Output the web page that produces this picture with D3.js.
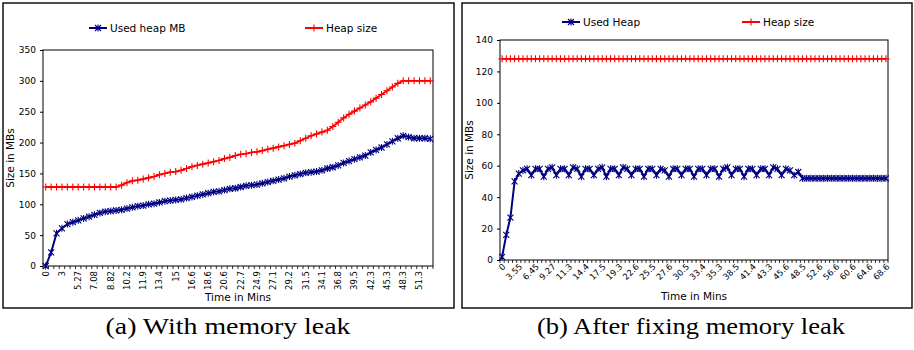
<!DOCTYPE html>
<html>
<head>
<meta charset="utf-8">
<script src="https://cdn.jsdelivr.net/npm/d3@7"></script>
<style>
  body { margin: 0; background: #fff; }
  svg text { font-family: "DejaVu Sans", Verdana, sans-serif; fill: #000; }
  .caption { font-family: "Liberation Serif", "Times New Roman", serif; }
</style>
</head>
<body>
<div id="chart"></div>
<script>
// (a) with memory leak
const leftTimeLabels = ["0", "3", "5.27", "7.08", "8.82", "10.2", "11.9", "13.4", "15", "16.6", "18.6", "20.6",
  "22.7", "24.9", "27.1", "29.2", "31.5", "34.1", "36.8", "39.5", "42.3", "45.3", "48.3", "51.3"];
const leftUsedHeap = [0, 22, 53, 61, 68, 71, 74, 77, 80, 83, 86, 88, 89, 90, 91, 93, 95, 97, 98, 100,
  101, 103, 105, 106, 107, 108, 110, 112, 114, 116, 118, 120, 121, 123, 125, 126, 128, 130, 131, 132,
  134, 136, 138, 140, 142, 145, 147, 149, 151, 152, 153, 155, 158, 160, 163, 167, 170, 173, 176, 179,
  184, 188, 192, 197, 202, 207, 211, 209, 207, 207, 207, 206];
const leftHeapSize = [128, 128, 128, 128, 128, 128, 128, 128, 128, 128, 128, 128, 128, 128, 131, 135, 138, 139, 141, 143,
  145, 148, 150, 152, 153, 155, 158, 161, 163, 165, 167, 169, 171, 174, 176, 179, 181, 182, 184, 185,
  187, 189, 191, 193, 195, 197, 199, 203, 207, 211, 214, 217, 220, 226, 233, 240, 246, 251, 256, 261,
  266, 272, 278, 284, 290, 296, 300, 300, 300, 300, 300, 300];

// (b) after fixing memory leak
const rightTimeLabels = ["0", "3.55", "6.45", "9.27", "11.3", "14.4", "17.5", "19.3", "22.6", "25.5", "27.6", "30.5",
  "33.4", "35.3", "38.5", "41.4", "43.3", "45.6", "48.5", "52.6", "56.6", "60.6", "64.6", "68.6"];
const rightUsedHeap = [2, 16, 27, 50, 55, 57,
  58, 54, 58, 58, 53, 58, 59, 54, 58, 58, 54, 59, 58, 53, 58, 58, 54, 58, 59, 53, 58, 58, 54, 59, 58, 54,
  58, 58, 53, 58, 58, 54, 58, 57, 53, 58, 58, 54, 58, 58, 53, 58, 58, 54, 58, 58, 53, 58, 59, 54, 58, 58,
  53, 58, 58, 54, 58, 58, 54, 59, 58, 54, 58, 57, 54, 56,
  52, 52, 52, 52, 52, 52, 52, 52, 52, 52, 52, 52, 52, 52, 52, 52, 52, 52, 52, 52, 52];
const rightHeapSize = [128, 128, 128, 128, 128, 128, 128, 128, 128, 128, 128, 128, 128, 128, 128, 128,
  128, 128, 128, 128, 128, 128, 128, 128, 128, 128, 128, 128, 128, 128, 128, 128, 128, 128, 128, 128,
  128, 128, 128, 128, 128, 128, 128, 128, 128, 128, 128, 128, 128, 128, 128, 128, 128, 128, 128, 128,
  128, 128, 128, 128, 128, 128, 128, 128, 128, 128, 128, 128, 128, 128, 128, 128, 128, 128, 128, 128,
  128, 128, 128, 128, 128, 128, 128, 128, 128, 128, 128, 128, 128, 128, 128, 128, 128];

const usedColor = "#000080";
const heapColor = "#ff0000";

// excel style markers
const starMarker = "M-3,-3L3,3M-3,3L3,-3M0,-3.5V3.5";
const plusMarker = "M-3.5,0H3.5M0,-3.5V3.5";

const svg = d3.select("#chart").append("svg")
  .attr("width", 914)
  .attr("height", 350);

function drawPanel(cfg) {
  const p = cfg.plot;
  const g = svg.append("g");

  // outer frame
  g.append("rect")
    .attr("x", cfg.frame[0]).attr("y", cfg.frame[1])
    .attr("width", cfg.frame[2]).attr("height", cfg.frame[3])
    .attr("fill", "none").attr("stroke", "#000").attr("stroke-width", 1.4);

  const idx = cfg.used.map((d, i) => i);
  const x = d3.scaleBand().domain(idx).range([p.left, p.right]);
  const y = d3.scaleLinear().domain([0, cfg.yMax]).range([p.bottom, p.top]);
  const cx = i => x(i) + x.bandwidth() / 2;

  // plot box
  g.append("rect")
    .attr("x", p.left).attr("y", p.top)
    .attr("width", p.right - p.left).attr("height", p.bottom - p.top)
    .attr("fill", "#fff").attr("stroke", "#000").attr("stroke-width", 1);

  // y axis
  const yAxis = g.append("g")
    .attr("transform", "translate(" + p.left + ",0)")
    .call(d3.axisLeft(y).tickValues(d3.range(0, cfg.yMax + 1, cfg.yStep)).tickSize(3).tickPadding(4));
  yAxis.select(".domain").remove();
  yAxis.selectAll("text").style("font-size", "9px").style("font-family", "DejaVu Sans");

  // x ticks between categories
  const edges = idx.map(i => x(i)).concat([x.range()[1]]);
  g.selectAll("line.xtick")
    .data(edges)
    .join("line")
    .attr("class", "xtick")
    .attr("x1", d => d).attr("x2", d => d)
    .attr("y1", p.bottom).attr("y2", p.bottom + 3)
    .attr("stroke", "#000").attr("stroke-width", 0.8);

  // x labels
  const labelIdx = cfg.labels.map((l, k) => k * cfg.labelEvery);
  g.selectAll("text.xlab")
    .data(labelIdx)
    .join("text")
    .attr("class", "xlab")
    .attr("transform", i => "translate(" + (cx(i) + cfg.labelShift) + "," + (p.bottom + 5) + ") rotate(" + cfg.labelAngle + ")")
    .attr("dy", "0.35em")
    .attr("text-anchor", "end")
    .style("font-size", "8.5px")
    .text((i, k) => cfg.labels[k]);

  // axis titles
  g.append("text")
    .attr("x", (p.left + p.right) / 2 + cfg.xTitleShift)
    .attr("y", cfg.xTitleY)
    .attr("text-anchor", "middle")
    .style("font-size", "10.5px")
    .text("Time in Mins");

  g.append("text")
    .attr("transform", "translate(" + cfg.yTitleX + "," + ((p.top + p.bottom) / 2) + ") rotate(-90)")
    .attr("text-anchor", "middle")
    .style("font-size", "10.5px")
    .text("Size in MBs");

  const line = d3.line().x((d, i) => cx(i)).y(d => y(d));

  const series = [
    { values: cfg.used, color: usedColor, marker: starMarker, width: 2 },
    { values: cfg.heap, color: heapColor, marker: plusMarker, width: 1.8 }
  ];

  series.forEach(s => {
    g.append("path")
      .datum(s.values)
      .attr("d", line)
      .attr("fill", "none")
      .attr("stroke", s.color)
      .attr("stroke-width", s.width);

    g.append("g").selectAll("path")
      .data(s.values)
      .join("path")
      .attr("d", s.marker)
      .attr("transform", (d, i) => "translate(" + cx(i) + "," + y(d) + ")")
      .attr("fill", "none")
      .attr("stroke", s.color)
      .attr("stroke-width", 1.1);
  });

  // legend
  const legend = [
    { name: cfg.usedName, color: usedColor, marker: starMarker, x: cfg.legendX[0] },
    { name: cfg.heapName, color: heapColor, marker: plusMarker, x: cfg.legendX[1] }
  ];
  const lg = g.selectAll("g.legend")
    .data(legend)
    .join("g")
    .attr("class", "legend")
    .attr("transform", d => "translate(" + d.x + "," + cfg.legendY + ")");
  lg.append("line")
    .attr("x1", 0).attr("x2", 18)
    .attr("stroke", d => d.color).attr("stroke-width", 2);
  lg.append("path")
    .attr("d", d => d.marker)
    .attr("transform", "translate(9,0)")
    .attr("fill", "none")
    .attr("stroke", d => d.color)
    .attr("stroke-width", 1.1);
  lg.append("text")
    .attr("x", 21)
    .attr("dy", "0.35em")
    .style("font-size", "10.5px")
    .text(d => d.name);

  // caption
  svg.append("text")
    .attr("class", "caption")
    .attr("x", cfg.caption.x)
    .attr("y", 334)
    .attr("text-anchor", "middle")
    .attr("textLength", cfg.caption.width)
    .attr("lengthAdjust", "spacingAndGlyphs")
    .style("font-family", "Liberation Serif")
    .style("font-size", "23px")
    .text(cfg.caption.text);
}

drawPanel({
  frame: [3, 3, 451, 305],
  plot: { left: 43, right: 433, top: 50, bottom: 266 },
  yMax: 350, yStep: 50,
  labels: leftTimeLabels, labelEvery: 3, labelAngle: -90, labelShift: 0,
  used: leftUsedHeap, heap: leftHeapSize,
  usedName: "Used heap MB", heapName: "Heap size",
  legendX: [89, 305], legendY: 28,
  xTitleShift: 0, xTitleY: 301, yTitleX: 14,
  caption: { x: 228, text: "(a) With memory leak", width: 245 }
});

drawPanel({
  frame: [462, 3, 450, 305],
  plot: { left: 500, right: 888, top: 40, bottom: 260 },
  yMax: 140, yStep: 20,
  labels: rightTimeLabels, labelEvery: 4, labelAngle: -45, labelShift: 2,
  used: rightUsedHeap, heap: rightHeapSize,
  usedName: "Used Heap", heapName: "Heap size",
  legendX: [562, 742], legendY: 22,
  xTitleShift: 0, xTitleY: 300, yTitleX: 473,
  caption: { x: 691, text: "(b) After fixing memory leak", width: 308 }
});
</script>
</body>
</html>
